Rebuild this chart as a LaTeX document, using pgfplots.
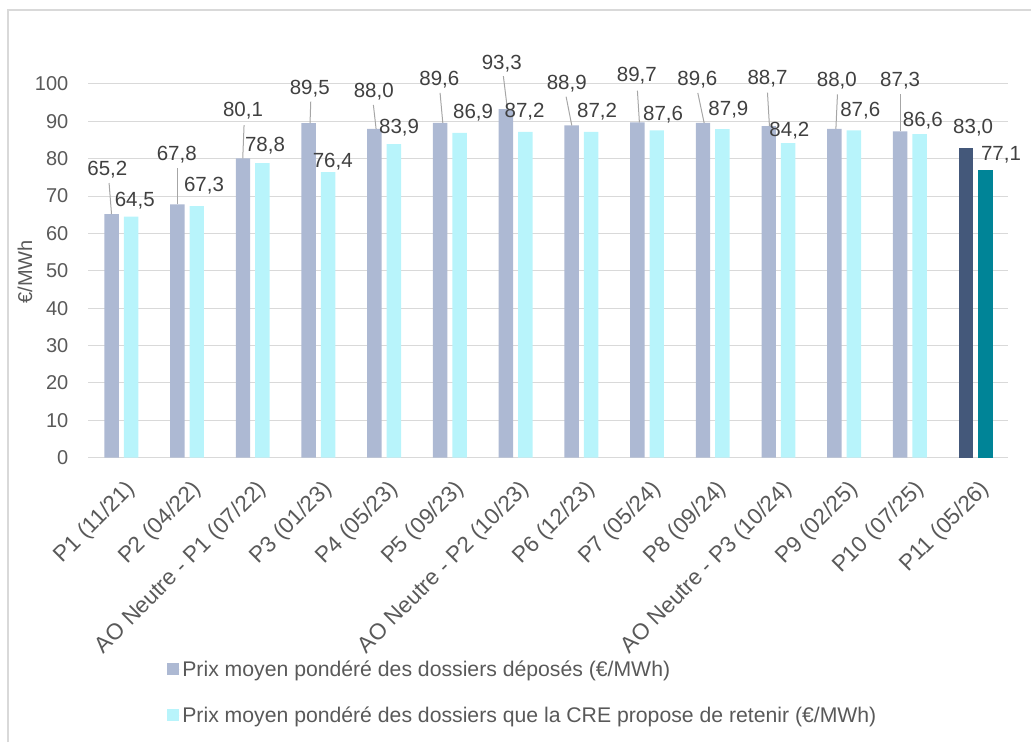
\documentclass[border=0pt]{standalone}
\usepackage{pgfplots}
\pgfplotsset{compat=1.18}
\usepackage{pgfplotstable}
\usepackage{fontspec}
\setmainfont{Liberation Sans}
\definecolor{cdep}{HTML}{ADB9D3}
\definecolor{cret}{HTML}{B8F4FB}
\definecolor{cdepP}{HTML}{44587A}
\definecolor{cretP}{HTML}{008497}
\definecolor{gridgray}{HTML}{D9D9D9}
\definecolor{leadgray}{HTML}{A6A6A6}
\definecolor{labtxt}{HTML}{404040}
\definecolor{ticktxt}{HTML}{595959}

\pgfplotstableread{
x dep ret dlx dly rlx rly ltx lty lbx
0 65.2 64.5 -0.213 77.0 0.204 68.7 -0.186 73.5 -0.149
1 67.8 67.3 -0.157 81.2 0.259 72.7 -0.148 77.5 -0.148
2 80.1 78.8 -0.148 92.8 0.187 83.4 -0.132 89.0 -0.152
3 89.5 76.4 -0.132 98.8 0.218 79.2 -0.117 95.3 -0.128
4 88.0 83.9 -0.158 97.9 0.227 88.2 -0.164 94.4 -0.123
5 89.6 86.9 -0.160 101.1 0.353 92.2 -0.149 97.6 -0.108
6 93.3 87.2 -0.210 105.5 0.137 92.6 -0.186 102.1 -0.125
7 88.9 87.2 -0.221 100.2 0.240 92.6 -0.231 96.6 -0.145
8 89.7 87.6 -0.155 102.2 0.245 91.9 -0.146 98.2 -0.116
9 89.6 87.9 -0.233 101.1 0.239 93.2 -0.227 97.6 -0.131
10 88.7 84.2 -0.167 101.5 0.167 87.5 -0.167 97.7 -0.137
11 88.0 87.6 -0.111 100.9 0.244 93.0 -0.102 97.2 -0.126
12 87.3 86.6 -0.148 100.9 0.198 90.1 -0.137 97.2 -0.137
13 83.0 77.1 -0.037 88.4 0.386 81.0 0 83.0 0
}\data

\begin{document}
\begin{tikzpicture}
\useasboundingbox (0,0) rectangle (1031pt,742pt);
\draw[gridgray, line width=1.5pt] (8pt,0pt) -- (8pt,732pt) -- (1031pt,732pt);
\begin{axis}[
  at={(88.45pt,284.3pt)}, anchor=south west,
  scale only axis, width=920pt, height=373.7pt,
  xmin=-0.5, xmax=13.5, ymin=0, ymax=100,
  clip=false,
  axis line style={draw=none},
  major tick length=0pt,
  ymajorgrids, grid style={gridgray, line width=1pt},
  ytick={0,10,...,100},
  xtick={0,...,13},
  xticklabels={P1 (11/21), P2 (04/22), AO Neutre - P1 (07/22), P3 (01/23), P4 (05/23), P5 (09/23), AO Neutre - P2 (10/23), P6 (12/23), P7 (05/24), P8 (09/24), AO Neutre - P3 (10/24), P9 (02/25), P10 (07/25), P11 (05/26)},
  /pgf/number format/assume math mode=true,
  /pgf/number format/.cd, fixed, fixed zerofill, precision=1, use comma, /pgfplots/.cd,
  yticklabel={\pgfmathprintnumber[fixed, precision=0]{\tick}},
  yticklabel style={anchor=east, inner sep=0pt, xshift=-20pt, font=\fontsize{20}{24}\selectfont, text=ticktxt},
  xticklabel style={xshift=3pt, yshift=-21pt, rotate=45, anchor=north east, inner sep=0pt, font=\fontsize{22.5}{27}\selectfont, text=ticktxt},
  ylabel={€/MWh},
  ylabel style={at={(axis description cs:-0.069,0.497)}, anchor=center, font=\fontsize{20}{24}\selectfont, text=ticktxt},
  legend style={at={(axis description cs:0.085,-0.537)}, anchor=north west, draw=none, fill=none, inner sep=0pt,
     font=\fontsize{21.2}{25}\selectfont, text=ticktxt, row sep=25pt, legend cell align=left},
  legend image code/.code={\fill[#1] (0pt,-6pt) rectangle (12pt,6pt); \path (0pt,0pt) -- (13.5pt,0pt);},
]
\addplot[ybar, bar width=0.22, bar shift=-0.148, fill=cdep, draw=none, skip coords between index={13}{14}] table[x=x, y=dep] {\data};
\addlegendentry{Prix moyen pondéré des dossiers déposés (€/MWh)}
\addplot[ybar, bar width=0.22, bar shift=0.148, fill=cret, draw=none, skip coords between index={13}{14}] table[x=x, y=ret] {\data};
\addlegendentry{Prix moyen pondéré des dossiers que la CRE propose de retenir (€/MWh)}
\addplot[ybar, bar width=0.22, bar shift=-0.148, fill=cdepP, draw=none, forget plot, skip coords between index={0}{13}] table[x=x, y=dep] {\data};
\addplot[ybar, bar width=0.22, bar shift=0.148, fill=cretP, draw=none, forget plot, skip coords between index={0}{13}] table[x=x, y=ret] {\data};
% leader lines
\addplot[forget plot, leadgray, line width=1pt, quiver={u=\thisrow{ltx}-\thisrow{lbx}, v=\thisrow{lty}-\thisrow{dep}}, mark=none]
  table[x expr=\thisrow{x}+\thisrow{lbx}, y=dep] {\data};
% labels
\addplot[forget plot, draw=none, mark=none, point meta=\thisrow{dep},
  nodes near coords, nodes near coords align=center,
  every node near coord/.append style={anchor=center, font=\fontsize{20.5}{24}\selectfont, text=labtxt}]
  table[x expr=\thisrow{x}+\thisrow{dlx}, y=dly] {\data};
\addplot[forget plot, draw=none, mark=none, point meta=\thisrow{ret},
  nodes near coords, nodes near coords align=center,
  every node near coord/.append style={anchor=center, font=\fontsize{20.5}{24}\selectfont, text=labtxt}]
  table[x expr=\thisrow{x}+\thisrow{rlx}, y=rly] {\data};
\end{axis}
\end{tikzpicture}
\end{document}
